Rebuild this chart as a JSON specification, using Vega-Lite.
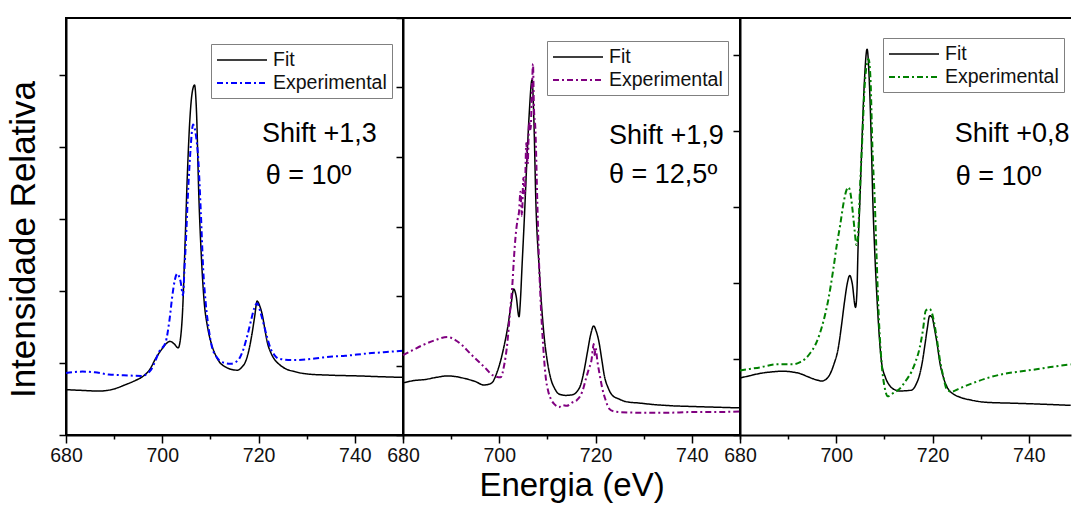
{
  "$schema": "https://vega.github.io/schema/vega-lite/v6.json",
  "padding": {"left": 5, "top": 16, "right": 0, "bottom": 0},
  "datasets": {
    "spectra": [
      {"panel": 1, "series": "Fit", "E": 680, "I": 0.63},
      {"panel": 1, "series": "Fit", "E": 683, "I": 0.62},
      {"panel": 1, "series": "Fit", "E": 686.9, "I": 0.61},
      {"panel": 1, "series": "Fit", "E": 690, "I": 0.64},
      {"panel": 1, "series": "Fit", "E": 692.4, "I": 0.70},
      {"panel": 1, "series": "Fit", "E": 694.5, "I": 0.76},
      {"panel": 1, "series": "Fit", "E": 695.9, "I": 0.81},
      {"panel": 1, "series": "Fit", "E": 697.5, "I": 0.92},
      {"panel": 1, "series": "Fit", "E": 698.6, "I": 1.06},
      {"panel": 1, "series": "Fit", "E": 700, "I": 1.20},
      {"panel": 1, "series": "Fit", "E": 701, "I": 1.28},
      {"panel": 1, "series": "Fit", "E": 701.6, "I": 1.30},
      {"panel": 1, "series": "Fit", "E": 702.4, "I": 1.27},
      {"panel": 1, "series": "Fit", "E": 703.3, "I": 1.21},
      {"panel": 1, "series": "Fit", "E": 703.8, "I": 1.35},
      {"panel": 1, "series": "Fit", "E": 704.2, "I": 1.7},
      {"panel": 1, "series": "Fit", "E": 704.7, "I": 2.6},
      {"panel": 1, "series": "Fit", "E": 705.2, "I": 3.6},
      {"panel": 1, "series": "Fit", "E": 705.7, "I": 4.35},
      {"panel": 1, "series": "Fit", "E": 706.2, "I": 4.75},
      {"panel": 1, "series": "Fit", "E": 706.7, "I": 4.86},
      {"panel": 1, "series": "Fit", "E": 707.1, "I": 4.5},
      {"panel": 1, "series": "Fit", "E": 707.6, "I": 3.3},
      {"panel": 1, "series": "Fit", "E": 708.1, "I": 2.5},
      {"panel": 1, "series": "Fit", "E": 708.7, "I": 1.85},
      {"panel": 1, "series": "Fit", "E": 709.4, "I": 1.5},
      {"panel": 1, "series": "Fit", "E": 710.1, "I": 1.29},
      {"panel": 1, "series": "Fit", "E": 711, "I": 1.12},
      {"panel": 1, "series": "Fit", "E": 711.8, "I": 1.02},
      {"panel": 1, "series": "Fit", "E": 713, "I": 0.95},
      {"panel": 1, "series": "Fit", "E": 713.9, "I": 0.92},
      {"panel": 1, "series": "Fit", "E": 715.6, "I": 0.90},
      {"panel": 1, "series": "Fit", "E": 716.5, "I": 0.94},
      {"panel": 1, "series": "Fit", "E": 717.3, "I": 1.02},
      {"panel": 1, "series": "Fit", "E": 718, "I": 1.18},
      {"panel": 1, "series": "Fit", "E": 718.6, "I": 1.39},
      {"panel": 1, "series": "Fit", "E": 719.2, "I": 1.65},
      {"panel": 1, "series": "Fit", "E": 719.7, "I": 1.86},
      {"panel": 1, "series": "Fit", "E": 720.2, "I": 1.80},
      {"panel": 1, "series": "Fit", "E": 720.8, "I": 1.66},
      {"panel": 1, "series": "Fit", "E": 721.3, "I": 1.47},
      {"panel": 1, "series": "Fit", "E": 721.8, "I": 1.29},
      {"panel": 1, "series": "Fit", "E": 722.5, "I": 1.15},
      {"panel": 1, "series": "Fit", "E": 723.2, "I": 1.06},
      {"panel": 1, "series": "Fit", "E": 724.3, "I": 0.98},
      {"panel": 1, "series": "Fit", "E": 725.6, "I": 0.92},
      {"panel": 1, "series": "Fit", "E": 727.5, "I": 0.88},
      {"panel": 1, "series": "Fit", "E": 729.8, "I": 0.85},
      {"panel": 1, "series": "Fit", "E": 735, "I": 0.83},
      {"panel": 1, "series": "Fit", "E": 740.9, "I": 0.82},
      {"panel": 1, "series": "Fit", "E": 745, "I": 0.81},
      {"panel": 1, "series": "Fit", "E": 750, "I": 0.80},

      {"panel": 1, "series": "Experimental", "E": 680, "I": 0.86},
      {"panel": 1, "series": "Experimental", "E": 683.4, "I": 0.88},
      {"panel": 1, "series": "Experimental", "E": 686, "I": 0.87},
      {"panel": 1, "series": "Experimental", "E": 688.9, "I": 0.84},
      {"panel": 1, "series": "Experimental", "E": 692, "I": 0.83},
      {"panel": 1, "series": "Experimental", "E": 695.9, "I": 0.82},
      {"panel": 1, "series": "Experimental", "E": 697, "I": 0.86},
      {"panel": 1, "series": "Experimental", "E": 697.6, "I": 0.90},
      {"panel": 1, "series": "Experimental", "E": 698.5, "I": 1.02},
      {"panel": 1, "series": "Experimental", "E": 699.3, "I": 1.15},
      {"panel": 1, "series": "Experimental", "E": 700.7, "I": 1.29},
      {"panel": 1, "series": "Experimental", "E": 701.5, "I": 1.6},
      {"panel": 1, "series": "Experimental", "E": 702.1, "I": 1.94},
      {"panel": 1, "series": "Experimental", "E": 702.6, "I": 2.15},
      {"panel": 1, "series": "Experimental", "E": 703.1, "I": 2.24},
      {"panel": 1, "series": "Experimental", "E": 703.5, "I": 2.20},
      {"panel": 1, "series": "Experimental", "E": 703.8, "I": 2.13},
      {"panel": 1, "series": "Experimental", "E": 704.3, "I": 1.94},
      {"panel": 1, "series": "Experimental", "E": 704.6, "I": 2.3},
      {"panel": 1, "series": "Experimental", "E": 704.9, "I": 2.68},
      {"panel": 1, "series": "Experimental", "E": 705.3, "I": 3.3},
      {"panel": 1, "series": "Experimental", "E": 705.8, "I": 3.9},
      {"panel": 1, "series": "Experimental", "E": 706.4, "I": 4.31},
      {"panel": 1, "series": "Experimental", "E": 706.9, "I": 4.2},
      {"panel": 1, "series": "Experimental", "E": 707.5, "I": 3.8},
      {"panel": 1, "series": "Experimental", "E": 708, "I": 3.1},
      {"panel": 1, "series": "Experimental", "E": 708.5, "I": 2.3},
      {"panel": 1, "series": "Experimental", "E": 709, "I": 1.85},
      {"panel": 1, "series": "Experimental", "E": 709.7, "I": 1.45},
      {"panel": 1, "series": "Experimental", "E": 710.4, "I": 1.20},
      {"panel": 1, "series": "Experimental", "E": 711.1, "I": 1.10},
      {"panel": 1, "series": "Experimental", "E": 711.8, "I": 1.04},
      {"panel": 1, "series": "Experimental", "E": 713, "I": 1.00},
      {"panel": 1, "series": "Experimental", "E": 714.2, "I": 0.99},
      {"panel": 1, "series": "Experimental", "E": 715.2, "I": 1.01},
      {"panel": 1, "series": "Experimental", "E": 716, "I": 1.06},
      {"panel": 1, "series": "Experimental", "E": 716.9, "I": 1.20},
      {"panel": 1, "series": "Experimental", "E": 717.7, "I": 1.39},
      {"panel": 1, "series": "Experimental", "E": 718.4, "I": 1.58},
      {"panel": 1, "series": "Experimental", "E": 719.1, "I": 1.76},
      {"panel": 1, "series": "Experimental", "E": 719.7, "I": 1.83},
      {"panel": 1, "series": "Experimental", "E": 720.4, "I": 1.70},
      {"panel": 1, "series": "Experimental", "E": 721.1, "I": 1.53},
      {"panel": 1, "series": "Experimental", "E": 721.8, "I": 1.35},
      {"panel": 1, "series": "Experimental", "E": 722.5, "I": 1.20},
      {"panel": 1, "series": "Experimental", "E": 723.3, "I": 1.11},
      {"panel": 1, "series": "Experimental", "E": 724.2, "I": 1.06},
      {"panel": 1, "series": "Experimental", "E": 727, "I": 1.04},
      {"panel": 1, "series": "Experimental", "E": 730, "I": 1.05},
      {"panel": 1, "series": "Experimental", "E": 732.6, "I": 1.07},
      {"panel": 1, "series": "Experimental", "E": 735.3, "I": 1.09},
      {"panel": 1, "series": "Experimental", "E": 738, "I": 1.10},
      {"panel": 1, "series": "Experimental", "E": 742.3, "I": 1.13},
      {"panel": 1, "series": "Experimental", "E": 746, "I": 1.15},
      {"panel": 1, "series": "Experimental", "E": 750, "I": 1.17},

      {"panel": 2, "series": "Fit", "E": 680, "I": 0.75},
      {"panel": 2, "series": "Fit", "E": 682, "I": 0.78},
      {"panel": 2, "series": "Fit", "E": 684.7, "I": 0.80},
      {"panel": 2, "series": "Fit", "E": 687, "I": 0.83},
      {"panel": 2, "series": "Fit", "E": 689.2, "I": 0.85},
      {"panel": 2, "series": "Fit", "E": 691, "I": 0.84},
      {"panel": 2, "series": "Fit", "E": 693, "I": 0.81},
      {"panel": 2, "series": "Fit", "E": 695, "I": 0.77},
      {"panel": 2, "series": "Fit", "E": 696.8, "I": 0.72},
      {"panel": 2, "series": "Fit", "E": 697.8, "I": 0.73},
      {"panel": 2, "series": "Fit", "E": 698.6, "I": 0.76},
      {"panel": 2, "series": "Fit", "E": 699.3, "I": 0.86},
      {"panel": 2, "series": "Fit", "E": 700, "I": 1.00},
      {"panel": 2, "series": "Fit", "E": 700.9, "I": 1.25},
      {"panel": 2, "series": "Fit", "E": 701.7, "I": 1.53},
      {"panel": 2, "series": "Fit", "E": 702.4, "I": 1.85},
      {"panel": 2, "series": "Fit", "E": 703, "I": 2.10},
      {"panel": 2, "series": "Fit", "E": 703.5, "I": 2.0},
      {"panel": 2, "series": "Fit", "E": 704.1, "I": 1.70},
      {"panel": 2, "series": "Fit", "E": 704.4, "I": 1.95},
      {"panel": 2, "series": "Fit", "E": 704.7, "I": 2.39},
      {"panel": 2, "series": "Fit", "E": 705.2, "I": 3.11},
      {"panel": 2, "series": "Fit", "E": 705.7, "I": 3.9},
      {"panel": 2, "series": "Fit", "E": 706.2, "I": 4.6},
      {"panel": 2, "series": "Fit", "E": 706.8, "I": 5.11},
      {"panel": 2, "series": "Fit", "E": 707.2, "I": 4.5},
      {"panel": 2, "series": "Fit", "E": 707.6, "I": 3.35},
      {"panel": 2, "series": "Fit", "E": 708.3, "I": 2.39},
      {"panel": 2, "series": "Fit", "E": 709.3, "I": 1.43},
      {"panel": 2, "series": "Fit", "E": 710, "I": 1.05},
      {"panel": 2, "series": "Fit", "E": 710.7, "I": 0.81},
      {"panel": 2, "series": "Fit", "E": 711.5, "I": 0.67},
      {"panel": 2, "series": "Fit", "E": 712.4, "I": 0.59},
      {"panel": 2, "series": "Fit", "E": 713.8, "I": 0.57},
      {"panel": 2, "series": "Fit", "E": 715.2, "I": 0.58},
      {"panel": 2, "series": "Fit", "E": 716.2, "I": 0.63},
      {"panel": 2, "series": "Fit", "E": 716.9, "I": 0.72},
      {"panel": 2, "series": "Fit", "E": 717.6, "I": 0.92},
      {"panel": 2, "series": "Fit", "E": 718.3, "I": 1.19},
      {"panel": 2, "series": "Fit", "E": 719, "I": 1.45},
      {"panel": 2, "series": "Fit", "E": 719.6, "I": 1.57},
      {"panel": 2, "series": "Fit", "E": 720.1, "I": 1.50},
      {"panel": 2, "series": "Fit", "E": 720.7, "I": 1.34},
      {"panel": 2, "series": "Fit", "E": 721.3, "I": 1.08},
      {"panel": 2, "series": "Fit", "E": 721.8, "I": 0.86},
      {"panel": 2, "series": "Fit", "E": 722.6, "I": 0.68},
      {"panel": 2, "series": "Fit", "E": 723.5, "I": 0.57},
      {"panel": 2, "series": "Fit", "E": 724.8, "I": 0.52},
      {"panel": 2, "series": "Fit", "E": 726.3, "I": 0.48},
      {"panel": 2, "series": "Fit", "E": 729, "I": 0.46},
      {"panel": 2, "series": "Fit", "E": 731.8, "I": 0.44},
      {"panel": 2, "series": "Fit", "E": 736, "I": 0.42},
      {"panel": 2, "series": "Fit", "E": 740.1, "I": 0.41},
      {"panel": 2, "series": "Fit", "E": 745, "I": 0.40},
      {"panel": 2, "series": "Fit", "E": 750, "I": 0.39},

      {"panel": 2, "series": "Experimental", "E": 680, "I": 1.15},
      {"panel": 2, "series": "Experimental", "E": 682, "I": 1.22},
      {"panel": 2, "series": "Experimental", "E": 684, "I": 1.29},
      {"panel": 2, "series": "Experimental", "E": 686.5, "I": 1.36},
      {"panel": 2, "series": "Experimental", "E": 689.2, "I": 1.41},
      {"panel": 2, "series": "Experimental", "E": 690.8, "I": 1.37},
      {"panel": 2, "series": "Experimental", "E": 692.3, "I": 1.29},
      {"panel": 2, "series": "Experimental", "E": 694, "I": 1.17},
      {"panel": 2, "series": "Experimental", "E": 695.8, "I": 1.05},
      {"panel": 2, "series": "Experimental", "E": 697.3, "I": 0.95},
      {"panel": 2, "series": "Experimental", "E": 698.6, "I": 0.86},
      {"panel": 2, "series": "Experimental", "E": 700.3, "I": 0.83},
      {"panel": 2, "series": "Experimental", "E": 701, "I": 1.0},
      {"panel": 2, "series": "Experimental", "E": 701.7, "I": 1.34},
      {"panel": 2, "series": "Experimental", "E": 702.2, "I": 1.75},
      {"panel": 2, "series": "Experimental", "E": 702.7, "I": 2.15},
      {"panel": 2, "series": "Experimental", "E": 703.1, "I": 2.6},
      {"panel": 2, "series": "Experimental", "E": 703.4, "I": 2.87},
      {"panel": 2, "series": "Experimental", "E": 703.8, "I": 3.1},
      {"panel": 2, "series": "Experimental", "E": 704.1, "I": 3.21},
      {"panel": 2, "series": "Experimental", "E": 704.4, "I": 3.5},
      {"panel": 2, "series": "Experimental", "E": 704.7, "I": 3.15},
      {"panel": 2, "series": "Experimental", "E": 705.0, "I": 3.7},
      {"panel": 2, "series": "Experimental", "E": 705.3, "I": 3.45},
      {"panel": 2, "series": "Experimental", "E": 705.6, "I": 4.2},
      {"panel": 2, "series": "Experimental", "E": 705.9, "I": 3.9},
      {"panel": 2, "series": "Experimental", "E": 706.2, "I": 4.5},
      {"panel": 2, "series": "Experimental", "E": 706.5, "I": 4.4},
      {"panel": 2, "series": "Experimental", "E": 706.8, "I": 5.0},
      {"panel": 2, "series": "Experimental", "E": 707.0, "I": 5.34},
      {"panel": 2, "series": "Experimental", "E": 707.2, "I": 4.7},
      {"panel": 2, "series": "Experimental", "E": 707.5, "I": 4.4},
      {"panel": 2, "series": "Experimental", "E": 707.9, "I": 3.35},
      {"panel": 2, "series": "Experimental", "E": 708.2, "I": 2.6},
      {"panel": 2, "series": "Experimental", "E": 708.6, "I": 1.91},
      {"panel": 2, "series": "Experimental", "E": 709.1, "I": 1.3},
      {"panel": 2, "series": "Experimental", "E": 709.6, "I": 0.86},
      {"panel": 2, "series": "Experimental", "E": 710.2, "I": 0.62},
      {"panel": 2, "series": "Experimental", "E": 710.7, "I": 0.52},
      {"panel": 2, "series": "Experimental", "E": 711.5, "I": 0.44},
      {"panel": 2, "series": "Experimental", "E": 712.4, "I": 0.40},
      {"panel": 2, "series": "Experimental", "E": 713.2, "I": 0.43},
      {"panel": 2, "series": "Experimental", "E": 714, "I": 0.42},
      {"panel": 2, "series": "Experimental", "E": 715.2, "I": 0.47},
      {"panel": 2, "series": "Experimental", "E": 716.1, "I": 0.50},
      {"panel": 2, "series": "Experimental", "E": 716.9, "I": 0.57},
      {"panel": 2, "series": "Experimental", "E": 717.5, "I": 0.68},
      {"panel": 2, "series": "Experimental", "E": 718, "I": 0.81},
      {"panel": 2, "series": "Experimental", "E": 718.6, "I": 0.95},
      {"panel": 2, "series": "Experimental", "E": 719.2, "I": 1.10},
      {"panel": 2, "series": "Experimental", "E": 719.4, "I": 1.22},
      {"panel": 2, "series": "Experimental", "E": 719.6, "I": 1.31},
      {"panel": 2, "series": "Experimental", "E": 719.8, "I": 1.15},
      {"panel": 2, "series": "Experimental", "E": 720.0, "I": 1.25},
      {"panel": 2, "series": "Experimental", "E": 720.4, "I": 1.05},
      {"panel": 2, "series": "Experimental", "E": 720.9, "I": 0.85},
      {"panel": 2, "series": "Experimental", "E": 721.4, "I": 0.67},
      {"panel": 2, "series": "Experimental", "E": 722.1, "I": 0.50},
      {"panel": 2, "series": "Experimental", "E": 722.8, "I": 0.38},
      {"panel": 2, "series": "Experimental", "E": 723.8, "I": 0.34},
      {"panel": 2, "series": "Experimental", "E": 724.9, "I": 0.33},
      {"panel": 2, "series": "Experimental", "E": 730, "I": 0.32},
      {"panel": 2, "series": "Experimental", "E": 734.6, "I": 0.32},
      {"panel": 2, "series": "Experimental", "E": 740, "I": 0.33},
      {"panel": 2, "series": "Experimental", "E": 745, "I": 0.33},
      {"panel": 2, "series": "Experimental", "E": 750, "I": 0.34},

      {"panel": 3, "series": "Fit", "E": 680, "I": 0.75},
      {"panel": 3, "series": "Fit", "E": 682, "I": 0.78},
      {"panel": 3, "series": "Fit", "E": 684.1, "I": 0.81},
      {"panel": 3, "series": "Fit", "E": 686.5, "I": 0.83},
      {"panel": 3, "series": "Fit", "E": 688.9, "I": 0.84},
      {"panel": 3, "series": "Fit", "E": 690.8, "I": 0.83},
      {"panel": 3, "series": "Fit", "E": 692.4, "I": 0.81},
      {"panel": 3, "series": "Fit", "E": 694, "I": 0.77},
      {"panel": 3, "series": "Fit", "E": 695.2, "I": 0.74},
      {"panel": 3, "series": "Fit", "E": 696.2, "I": 0.72},
      {"panel": 3, "series": "Fit", "E": 696.9, "I": 0.71},
      {"panel": 3, "series": "Fit", "E": 697.8, "I": 0.73},
      {"panel": 3, "series": "Fit", "E": 698.6, "I": 0.79},
      {"panel": 3, "series": "Fit", "E": 699.5, "I": 0.93},
      {"panel": 3, "series": "Fit", "E": 700.4, "I": 1.14},
      {"panel": 3, "series": "Fit", "E": 701.1, "I": 1.45},
      {"panel": 3, "series": "Fit", "E": 701.7, "I": 1.75},
      {"panel": 3, "series": "Fit", "E": 702.3, "I": 2.0},
      {"panel": 3, "series": "Fit", "E": 702.8, "I": 2.10},
      {"panel": 3, "series": "Fit", "E": 703.3, "I": 2.0},
      {"panel": 3, "series": "Fit", "E": 704, "I": 1.68},
      {"panel": 3, "series": "Fit", "E": 704.3, "I": 1.9},
      {"panel": 3, "series": "Fit", "E": 704.5, "I": 2.41},
      {"panel": 3, "series": "Fit", "E": 704.9, "I": 3.07},
      {"panel": 3, "series": "Fit", "E": 705.3, "I": 3.8},
      {"panel": 3, "series": "Fit", "E": 705.8, "I": 4.6},
      {"panel": 3, "series": "Fit", "E": 706.4, "I": 5.08},
      {"panel": 3, "series": "Fit", "E": 706.9, "I": 4.6},
      {"panel": 3, "series": "Fit", "E": 707.3, "I": 3.8},
      {"panel": 3, "series": "Fit", "E": 707.6, "I": 3.07},
      {"panel": 3, "series": "Fit", "E": 708, "I": 2.4},
      {"panel": 3, "series": "Fit", "E": 708.5, "I": 1.75},
      {"panel": 3, "series": "Fit", "E": 709.4, "I": 0.96},
      {"panel": 3, "series": "Fit", "E": 710.2, "I": 0.76},
      {"panel": 3, "series": "Fit", "E": 711.1, "I": 0.65},
      {"panel": 3, "series": "Fit", "E": 712, "I": 0.60},
      {"panel": 3, "series": "Fit", "E": 713.2, "I": 0.58},
      {"panel": 3, "series": "Fit", "E": 715.6, "I": 0.59},
      {"panel": 3, "series": "Fit", "E": 716.6, "I": 0.67},
      {"panel": 3, "series": "Fit", "E": 717.3, "I": 0.79},
      {"panel": 3, "series": "Fit", "E": 717.9, "I": 0.97},
      {"panel": 3, "series": "Fit", "E": 718.4, "I": 1.18},
      {"panel": 3, "series": "Fit", "E": 718.9, "I": 1.40},
      {"panel": 3, "series": "Fit", "E": 719.4, "I": 1.57},
      {"panel": 3, "series": "Fit", "E": 719.9, "I": 1.55},
      {"panel": 3, "series": "Fit", "E": 720.4, "I": 1.40},
      {"panel": 3, "series": "Fit", "E": 721, "I": 1.18},
      {"panel": 3, "series": "Fit", "E": 721.5, "I": 0.96},
      {"panel": 3, "series": "Fit", "E": 722.3, "I": 0.75},
      {"panel": 3, "series": "Fit", "E": 723.2, "I": 0.61},
      {"panel": 3, "series": "Fit", "E": 724.3, "I": 0.54},
      {"panel": 3, "series": "Fit", "E": 725.6, "I": 0.50},
      {"panel": 3, "series": "Fit", "E": 728, "I": 0.46},
      {"panel": 3, "series": "Fit", "E": 731.2, "I": 0.43},
      {"panel": 3, "series": "Fit", "E": 736, "I": 0.42},
      {"panel": 3, "series": "Fit", "E": 740.9, "I": 0.41},
      {"panel": 3, "series": "Fit", "E": 745, "I": 0.40},
      {"panel": 3, "series": "Fit", "E": 748.7, "I": 0.39},

      {"panel": 3, "series": "Experimental", "E": 680, "I": 0.85},
      {"panel": 3, "series": "Experimental", "E": 682, "I": 0.87},
      {"panel": 3, "series": "Experimental", "E": 684.1, "I": 0.89},
      {"panel": 3, "series": "Experimental", "E": 687.6, "I": 0.93},
      {"panel": 3, "series": "Experimental", "E": 691.1, "I": 0.93},
      {"panel": 3, "series": "Experimental", "E": 692.5, "I": 0.96},
      {"panel": 3, "series": "Experimental", "E": 693.5, "I": 1.00},
      {"panel": 3, "series": "Experimental", "E": 694.6, "I": 1.08},
      {"panel": 3, "series": "Experimental", "E": 695.6, "I": 1.18},
      {"panel": 3, "series": "Experimental", "E": 696.5, "I": 1.32},
      {"panel": 3, "series": "Experimental", "E": 697.3, "I": 1.49},
      {"panel": 3, "series": "Experimental", "E": 698.4, "I": 1.8},
      {"panel": 3, "series": "Experimental", "E": 699.4, "I": 2.19},
      {"panel": 3, "series": "Experimental", "E": 700.1, "I": 2.5},
      {"panel": 3, "series": "Experimental", "E": 700.8, "I": 2.76},
      {"panel": 3, "series": "Experimental", "E": 701.5, "I": 3.05},
      {"panel": 3, "series": "Experimental", "E": 702.1, "I": 3.22},
      {"panel": 3, "series": "Experimental", "E": 702.5, "I": 3.26},
      {"panel": 3, "series": "Experimental", "E": 702.9, "I": 3.2},
      {"panel": 3, "series": "Experimental", "E": 703.4, "I": 2.95},
      {"panel": 3, "series": "Experimental", "E": 703.8, "I": 2.7},
      {"panel": 3, "series": "Experimental", "E": 704.2, "I": 2.50},
      {"panel": 3, "series": "Experimental", "E": 704.5, "I": 2.6},
      {"panel": 3, "series": "Experimental", "E": 704.9, "I": 3.2},
      {"panel": 3, "series": "Experimental", "E": 705.4, "I": 3.9},
      {"panel": 3, "series": "Experimental", "E": 705.9, "I": 4.6},
      {"panel": 3, "series": "Experimental", "E": 706.4, "I": 4.9},
      {"panel": 3, "series": "Experimental", "E": 706.7, "I": 4.95},
      {"panel": 3, "series": "Experimental", "E": 707.1, "I": 4.7},
      {"panel": 3, "series": "Experimental", "E": 707.5, "I": 3.8},
      {"panel": 3, "series": "Experimental", "E": 708, "I": 3.07},
      {"panel": 3, "series": "Experimental", "E": 708.4, "I": 2.3},
      {"panel": 3, "series": "Experimental", "E": 708.7, "I": 1.75},
      {"panel": 3, "series": "Experimental", "E": 709.4, "I": 0.96},
      {"panel": 3, "series": "Experimental", "E": 710.1, "I": 0.61},
      {"panel": 3, "series": "Experimental", "E": 710.7, "I": 0.51},
      {"panel": 3, "series": "Experimental", "E": 711.8, "I": 0.55},
      {"panel": 3, "series": "Experimental", "E": 713.2, "I": 0.61},
      {"panel": 3, "series": "Experimental", "E": 714.5, "I": 0.72},
      {"panel": 3, "series": "Experimental", "E": 715.6, "I": 0.83},
      {"panel": 3, "series": "Experimental", "E": 716.5, "I": 0.97},
      {"panel": 3, "series": "Experimental", "E": 717.3, "I": 1.14},
      {"panel": 3, "series": "Experimental", "E": 718, "I": 1.38},
      {"panel": 3, "series": "Experimental", "E": 718.6, "I": 1.64},
      {"panel": 3, "series": "Experimental", "E": 719.4, "I": 1.66},
      {"panel": 3, "series": "Experimental", "E": 719.9, "I": 1.60},
      {"panel": 3, "series": "Experimental", "E": 720.3, "I": 1.49},
      {"panel": 3, "series": "Experimental", "E": 721, "I": 1.22},
      {"panel": 3, "series": "Experimental", "E": 721.5, "I": 1.00},
      {"panel": 3, "series": "Experimental", "E": 722.2, "I": 0.78},
      {"panel": 3, "series": "Experimental", "E": 722.9, "I": 0.61},
      {"panel": 3, "series": "Experimental", "E": 723.9, "I": 0.57},
      {"panel": 3, "series": "Experimental", "E": 725.5, "I": 0.61},
      {"panel": 3, "series": "Experimental", "E": 727, "I": 0.65},
      {"panel": 3, "series": "Experimental", "E": 729.5, "I": 0.71},
      {"panel": 3, "series": "Experimental", "E": 731.9, "I": 0.76},
      {"panel": 3, "series": "Experimental", "E": 734.5, "I": 0.80},
      {"panel": 3, "series": "Experimental", "E": 737.4, "I": 0.83},
      {"panel": 3, "series": "Experimental", "E": 741, "I": 0.86},
      {"panel": 3, "series": "Experimental", "E": 745, "I": 0.90},
      {"panel": 3, "series": "Experimental", "E": 748.7, "I": 0.93}
    ]
  },
  "spacing": 0,
  "bounds": "flush",
  "resolve": {
    "scale": {"x": "independent", "y": "independent", "color": "independent", "strokeDash": "independent", "strokeWidth": "independent"}
  },
  "hconcat": [
    {
      "width": 337,
      "height": 417,
      "layer": [
        {
          "data": {"name": "spectra"},
          "transform": [{"filter": "datum.panel == 1"}],
          "mark": {"type": "line", "interpolate": "monotone"},
          "encoding": {
            "x": {"field": "E", "type": "quantitative", "scale": {"domain": [680, 750], "nice": false, "zero": false},
                  "axis": {"values": [680, 690, 700, 710, 720, 730, 740, 750], "title": null}},
            "y": {"field": "I", "type": "quantitative", "scale": {"domain": [0, 5.79], "nice": false, "zero": false},
                  "axis": {"values": [0, 1, 2, 3, 4, 5], "labels": false, "title": "Intensidade Relativa", "titleY": 221}},
            "color": {"field": "series", "type": "nominal",
                      "scale": {"domain": ["Fit", "Experimental"], "range": ["#000000", "#0000ff"]},
                      "legend": {"title": null, "orient": "none", "legendX": 145, "legendY": 26}},
            "strokeDash": {"field": "series", "type": "nominal",
                           "scale": {"domain": ["Fit", "Experimental"], "range": [[1, 0], [6, 3, 2, 3]]},
                           "legend": {"title": null, "orient": "none", "legendX": 145, "legendY": 26}},
            "strokeWidth": {"field": "series", "type": "nominal",
                            "scale": {"domain": ["Fit", "Experimental"], "range": [1.5, 2]}, "legend": null}
          }
        },
        {
          "data": {"values": [{}]},
          "mark": {"type": "text", "align": "left", "baseline": "alphabetic", "fontSize": 27},
          "encoding": {"x": {"datum": 720.7, "type": "quantitative"}, "y": {"datum": 4.075, "type": "quantitative"}, "text": {"value": "Shift +1,3"}}
        },
        {
          "data": {"values": [{}]},
          "mark": {"type": "text", "align": "left", "baseline": "alphabetic", "fontSize": 27},
          "encoding": {"x": {"datum": 721.5, "type": "quantitative"}, "y": {"datum": 3.48, "type": "quantitative"}, "text": {"value": "θ = 10º"}}
        }
      ]
    },
    {
      "width": 337,
      "height": 417,
      "layer": [
        {
          "data": {"name": "spectra"},
          "transform": [{"filter": "datum.panel == 2"}],
          "mark": {"type": "line", "interpolate": "monotone"},
          "encoding": {
            "x": {"field": "E", "type": "quantitative", "scale": {"domain": [680, 750], "nice": false, "zero": false},
                  "axis": {"values": [680, 690, 700, 710, 720, 730, 740, 750], "title": "Energia (eV)"}},
            "y": {"field": "I", "type": "quantitative", "scale": {"domain": [0, 6], "nice": false, "zero": false},
                  "axis": {"values": [0, 1, 2, 3, 4, 5, 6], "labels": false, "title": null}},
            "color": {"field": "series", "type": "nominal",
                      "scale": {"domain": ["Fit", "Experimental"], "range": ["#000000", "#800080"]},
                      "legend": {"title": null, "orient": "none", "legendX": 144, "legendY": 23}},
            "strokeDash": {"field": "series", "type": "nominal",
                           "scale": {"domain": ["Fit", "Experimental"], "range": [[1, 0], [6, 3, 2, 3]]},
                           "legend": {"title": null, "orient": "none", "legendX": 144, "legendY": 23}},
            "strokeWidth": {"field": "series", "type": "nominal",
                            "scale": {"domain": ["Fit", "Experimental"], "range": [1.5, 2]}, "legend": null}
          }
        },
        {
          "data": {"values": [{}]},
          "mark": {"type": "text", "align": "left", "baseline": "alphabetic", "fontSize": 27},
          "encoding": {"x": {"datum": 722.8, "type": "quantitative"}, "y": {"datum": 4.19, "type": "quantitative"}, "text": {"value": "Shift +1,9"}}
        },
        {
          "data": {"values": [{}]},
          "mark": {"type": "text", "align": "left", "baseline": "alphabetic", "fontSize": 27},
          "encoding": {"x": {"datum": 722.8, "type": "quantitative"}, "y": {"datum": 3.62, "type": "quantitative"}, "text": {"value": "θ = 12,5º"}}
        }
      ]
    },
    {
      "width": 331,
      "height": 417,
      "view": {"stroke": null},
      "layer": [
        {
          "data": {"name": "spectra"},
          "transform": [{"filter": "datum.panel == 3"}],
          "mark": {"type": "line", "interpolate": "monotone"},
          "encoding": {
            "x": {"field": "E", "type": "quantitative", "scale": {"domain": [680, 748.76], "nice": false, "zero": false},
                  "axis": {"values": [680, 690, 700, 710, 720, 730, 740], "title": null}},
            "y": {"field": "I", "type": "quantitative", "scale": {"domain": [0, 5.49], "nice": false, "zero": false},
                  "axis": {"values": [0, 1, 2, 3, 4, 5], "labels": false, "title": null}},
            "color": {"field": "series", "type": "nominal",
                      "scale": {"domain": ["Fit", "Experimental"], "range": ["#000000", "#008000"]},
                      "legend": {"title": null, "orient": "none", "legendX": 143, "legendY": 20}},
            "strokeDash": {"field": "series", "type": "nominal",
                           "scale": {"domain": ["Fit", "Experimental"], "range": [[1, 0], [6, 3, 2, 3]]},
                           "legend": {"title": null, "orient": "none", "legendX": 143, "legendY": 20}},
            "strokeWidth": {"field": "series", "type": "nominal",
                            "scale": {"domain": ["Fit", "Experimental"], "range": [1.5, 2]}, "legend": null}
          }
        },
        {
          "data": {"values": [{}]},
          "mark": {"type": "rule", "color": "#000000", "strokeWidth": 2},
          "encoding": {"y": {"datum": 5.49, "type": "quantitative"}}
        },
        {
          "data": {"values": [{}]},
          "mark": {"type": "text", "align": "left", "baseline": "alphabetic", "fontSize": 27},
          "encoding": {"x": {"datum": 724.6, "type": "quantitative"}, "y": {"datum": 3.855, "type": "quantitative"}, "text": {"value": "Shift +0,8"}}
        },
        {
          "data": {"values": [{}]},
          "mark": {"type": "text", "align": "left", "baseline": "alphabetic", "fontSize": 27},
          "encoding": {"x": {"datum": 724.8, "type": "quantitative"}, "y": {"datum": 3.29, "type": "quantitative"}, "text": {"value": "θ = 10º"}}
        }
      ]
    }
  ],
  "config": {
    "font": "Liberation Sans",
    "view": {"stroke": "#000000", "strokeWidth": 2},
    "text": {"font": "Liberation Sans", "color": "#000000"},
    "axis": {
      "grid": false,
      "domainColor": "#000000",
      "domainWidth": 2,
      "tickColor": "#000000",
      "tickWidth": 1.5,
      "labelFont": "Liberation Sans",
      "labelFontSize": 19.5,
      "labelColor": "#111111",
      "labelFlush": false,
      "labelOverlap": false,
      "titleFont": "Liberation Sans",
      "titleFontWeight": "normal",
      "titleColor": "#000000"
    },
    "axisX": {
      "tickSize": {"condition": {"test": "datum.value % 20 === 0", "value": 8}, "value": 4},
      "labelExpr": "datum.value % 20 === 0 ? datum.label : ''",
      "labelPadding": 3,
      "titleFontSize": 33,
      "titlePadding": 5
    },
    "axisY": {
      "tickSize": 7,
      "titleFontSize": 35,
      "titlePadding": 17
    },
    "legend": {
      "symbolType": "M-1,0H4",
      "symbolSize": 400,
      "symbolStrokeWidth": 2,
      "labelOffset": 35,
      "labelFont": "Liberation Sans",
      "labelFontSize": 19.5,
      "labelColor": "#111111",
      "labelLimit": 0,
      "rowPadding": 2,
      "padding": 5,
      "strokeColor": "#808080",
      "fillColor": "#ffffff"
    }
  }
}
